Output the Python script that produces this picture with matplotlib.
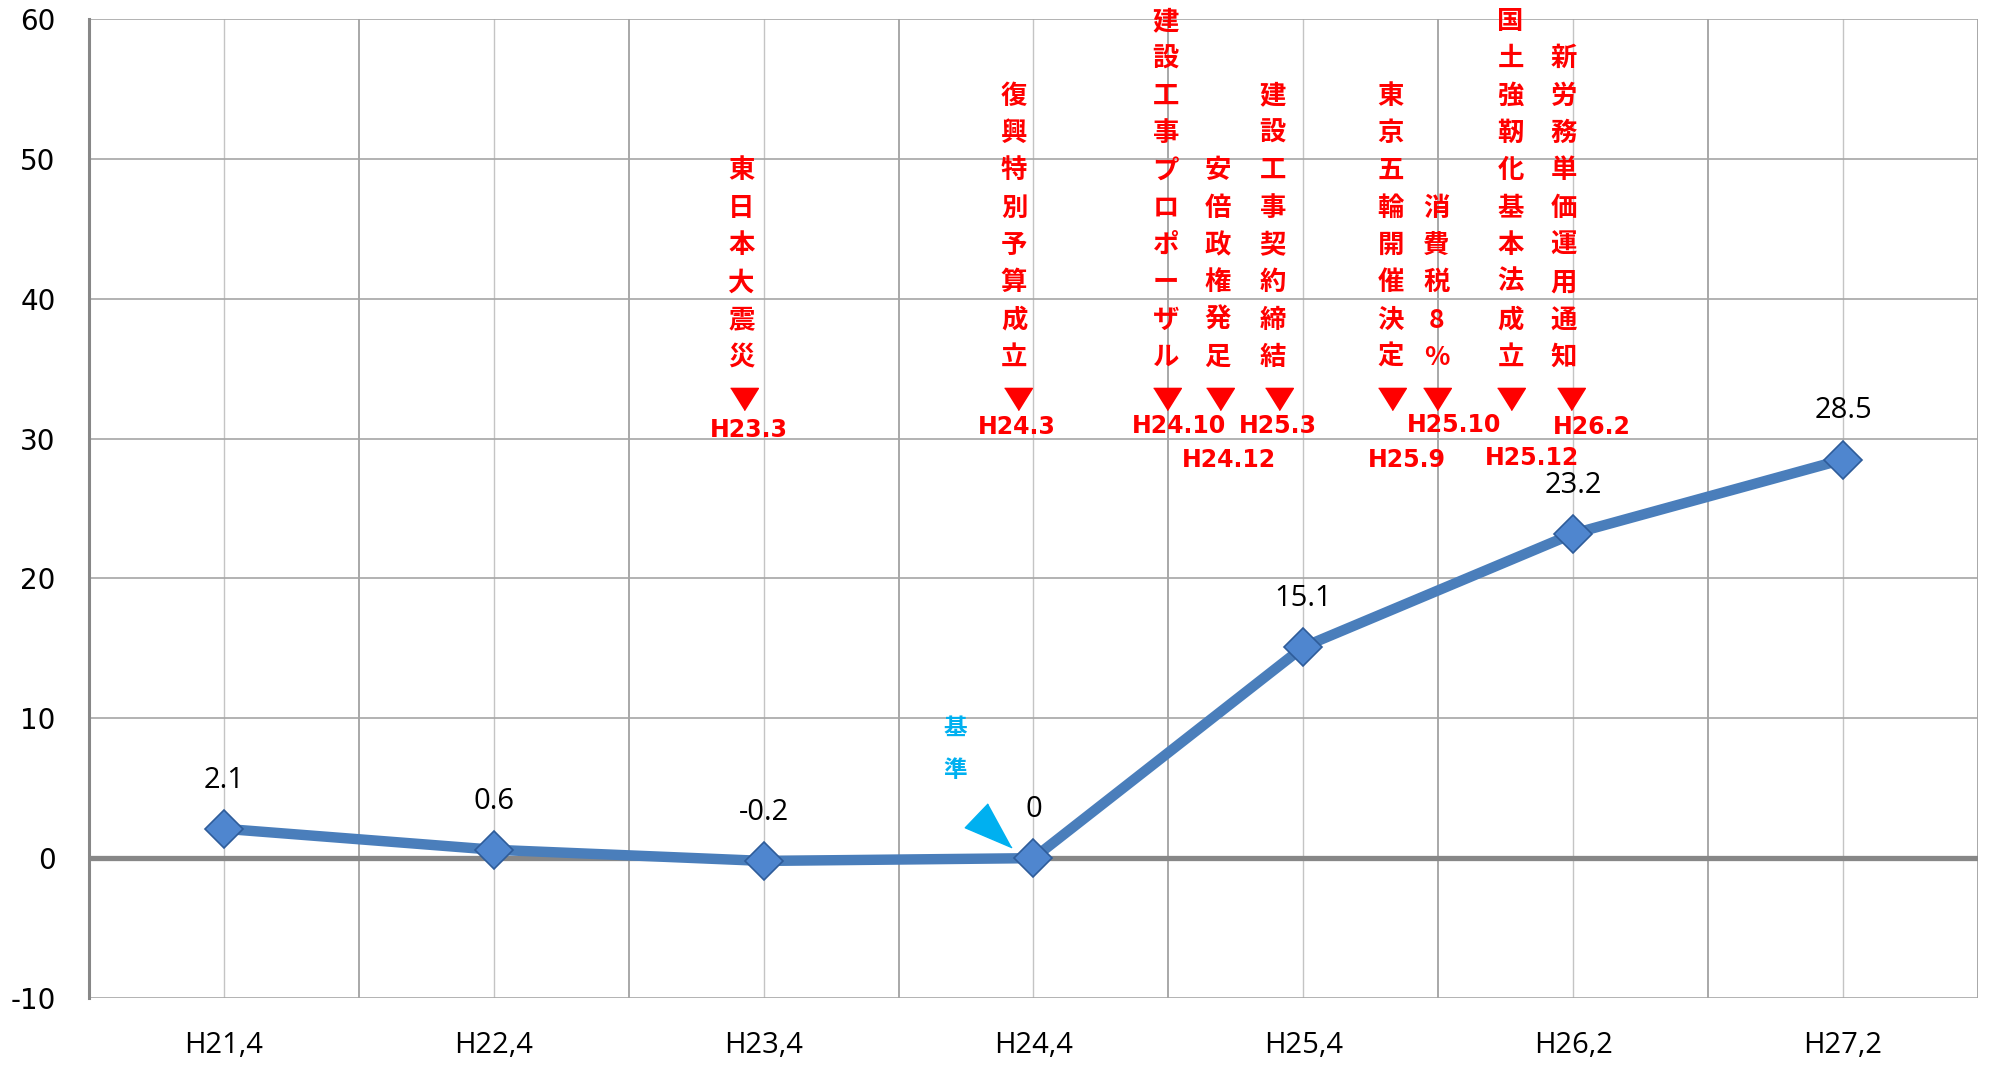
import matplotlib
matplotlib.use('Agg')
import matplotlib.pyplot as plt

plt.rcParams['font.family'] = ['DejaVu Sans', 'Noto Sans CJK JP']
plt.rcParams['axes.unicode_minus'] = False

# 労務単価の推移 (H24,4 = 0 基準)
categories = ['H21,4', 'H22,4', 'H23,4', 'H24,4', 'H25,4', 'H26,2', 'H27,2']
values = [2.1, 0.6, -0.2, 0, 15.1, 23.2, 28.5]

# 出来事
events = ['東日本大震災', '復興特別予算成立', '建設工事プロポーザル', '安倍政権発足',
          '建設工事契約締結', '東京五輪開催決定', '消費税8%', '国土強靭化基本法成立',
          '新労務単価運用通知']
event_dates = ['H23.3', 'H24.3', 'H24.10', 'H24.12', 'H25.3', 'H25.9', 'H25.10',
               'H25.12', 'H26.2']

# 注記の配置（カテゴリ軸上の位置）
col_x = [1.917, 2.928, 3.49, 3.683, 3.887, 4.324, 4.493, 4.768, 4.965]
tri_x = [1.926, 2.941, 3.495, 3.69, 3.91, 4.33, 4.497, 4.768, 4.993]
lab_x = [1.944, 2.94, 3.538, 3.725, 3.906, 4.384, 4.56, 4.847, 5.07]
lab_y = [30.64, 30.83, 30.9, 28.5, 30.9, 28.5, 31.0, 28.6, 30.8]
char_bottom = 35.8
char_step = 2.67
tri_y = 32.85

fig = plt.figure(figsize=(19.95, 10.67), dpi=100)
ax = fig.add_axes([89/1995, 1 - 998/1067, (1978-89)/1995, (998-19)/1067])

x = list(range(len(categories)))

# グリッド
for i in x:
    ax.axvline(i, color='#c4c4c4', lw=1.0, zorder=1)
for i in x:
    ax.axvline(i + 0.5, color='#9a9a9a', lw=1.2, zorder=1)
for v in range(-10, 61, 10):
    ax.axhline(v, color='#a6a6a6', lw=1.2, zorder=1)
ax.axhline(0, color='#878787', lw=3.8, zorder=2)

# 系列
ax.plot(x, values, color='#4A7EBB', lw=7.5, zorder=4, solid_capstyle='butt')
ax.plot(x, values, ls='none', marker='D', ms=19, mfc='#4F86CF', mec='#2E5C9A',
        mew=1.2, zorder=5)
for xi, v in zip(x, values):
    ax.annotate(f'{v:g}', (xi, v), xytext=(0, 35), textcoords='offset points',
                ha='center', va='center', fontsize=21, family='Open Sans', zorder=6)

# 出来事の注記
tri = [(-1, 0.8), (1, 0.8), (0, -0.8)]
for name, date, cx, tx, lx, ly in zip(events, event_dates, col_x, tri_x, lab_x, lab_y):
    n = len(name)
    for k, ch in enumerate(name):
        ax.text(cx, char_bottom + (n - 1 - k) * char_step, ch, color='red',
                fontsize=19, fontweight='bold', family=['Noto Sans CJK JP', 'DejaVu Sans'],
                ha='center', va='center', zorder=7)
    ax.plot(tx, tri_y, ls='none', marker=tri, ms=20, color='red', zorder=7)
    ax.text(lx, ly, date, color='red', fontsize=17, fontweight='bold',
            ha='center', va='center', zorder=7)

# 基準
base_i = 3
ax.text(base_i - 0.289, values[base_i] + 9.3, '基', color='#00B0F0', fontsize=17,
        fontweight='bold', family='Noto Sans CJK JP', ha='center', va='center')
ax.text(base_i - 0.289, values[base_i] + 6.3, '準', color='#00B0F0', fontsize=17,
        fontweight='bold', family='Noto Sans CJK JP', ha='center', va='center')
arrow = [(-0.3, 22.7), (-23.3, -1.3), (23.7, -21.3)]
ax.plot(base_i - 0.17, values[base_i] + 2.32, ls='none', marker=arrow, ms=34,
        color='#00B0F0', zorder=6)

ax.set_xlim(-0.5, 6.5)
ax.set_ylim(-10, 60)
ax.set_xticks(x)
ax.set_xticklabels(categories, fontsize=21, family='Open Sans')
ax.set_yticks(range(-10, 61, 10))
ax.tick_params(axis='y', length=0, pad=24, labelsize=20)
ax.tick_params(axis='x', length=0, pad=24)
for s in ['top', 'right', 'bottom']:
    ax.spines[s].set_visible(False)
ax.spines['left'].set_color('#878787')
ax.spines['left'].set_linewidth(2.2)

fig.savefig('out.png', dpi=100, facecolor='white')
